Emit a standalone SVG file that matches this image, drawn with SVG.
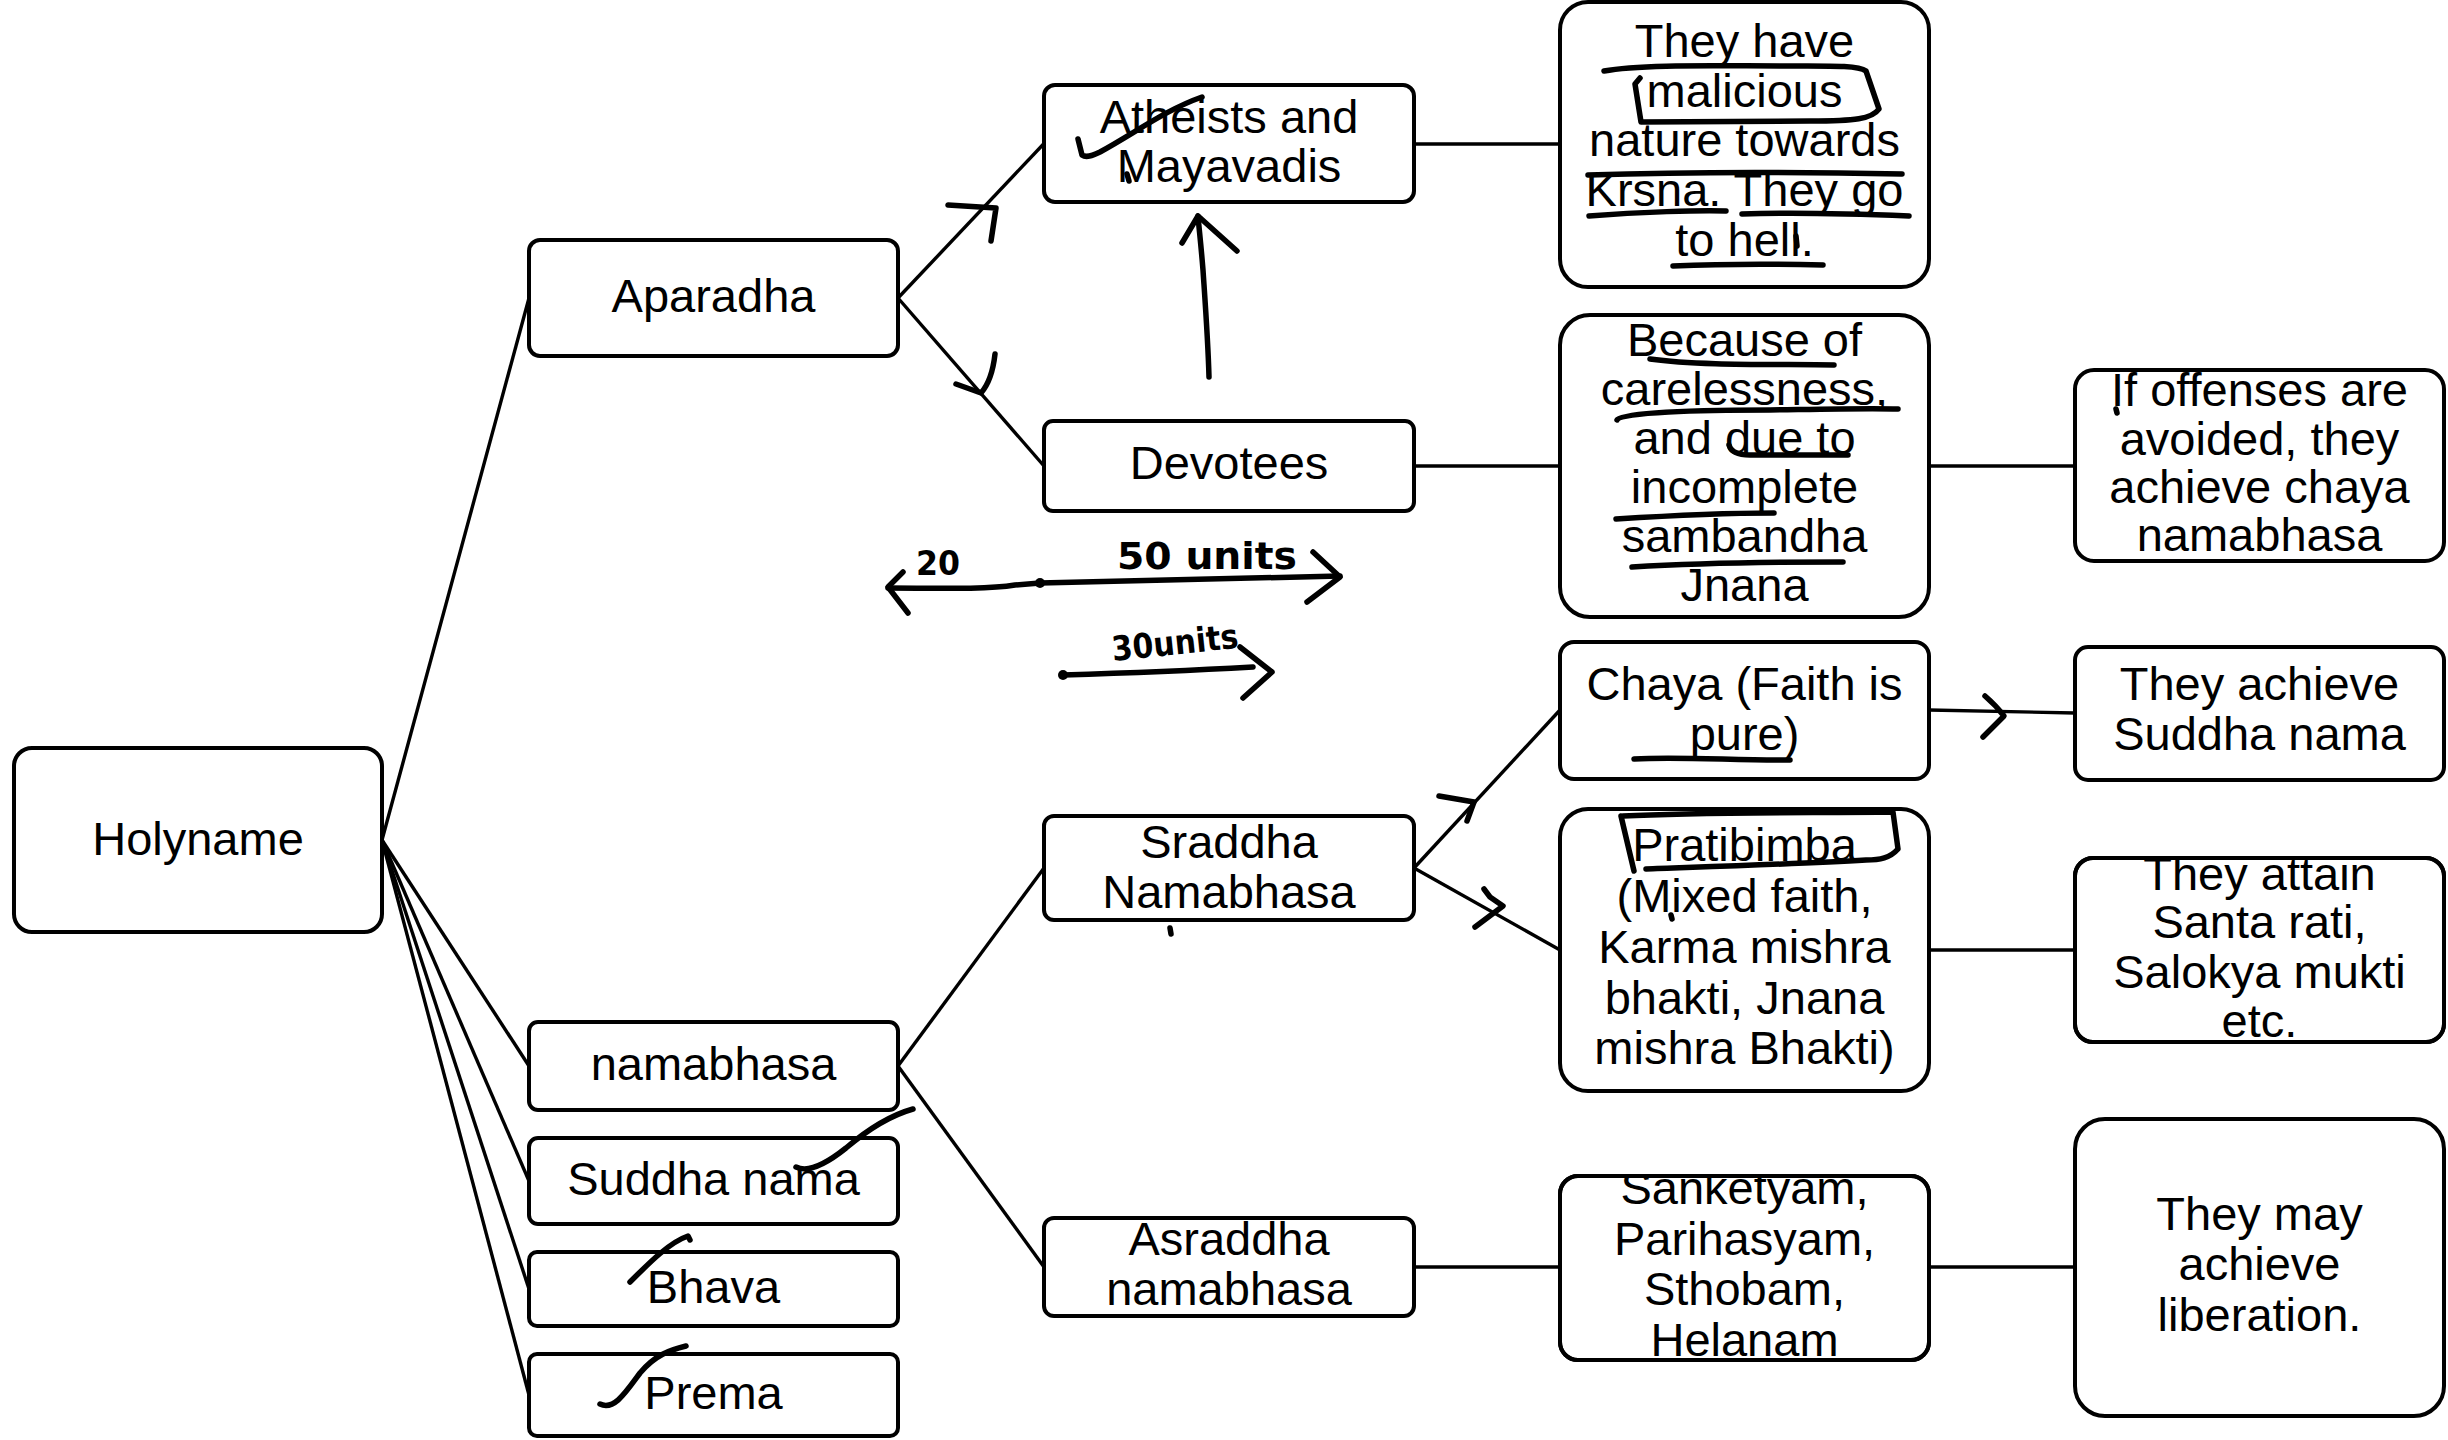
<svg xmlns="http://www.w3.org/2000/svg" width="2448" height="1440" viewBox="0 0 2448 1440">
  <style>
    .box { fill: #ffffff; stroke: #000000; stroke-width: 4; }
    .lbl { font-family: "Liberation Sans", Arial, sans-serif; font-size: 47px; fill: #000000; text-anchor: middle; }
    .edge { stroke: #000000; stroke-width: 3.4; fill: none; }
    .ink { stroke: #000000; stroke-width: 5.5; fill: none; stroke-linecap: round; stroke-linejoin: round; }
    .hand { font-family: "DejaVu Sans", "Liberation Sans", sans-serif; font-weight: bold; fill: #000000; }
  </style>
  <defs>
    <clipPath id="clip-sanketyam"><rect x="1560" y="1176" width="369" height="184" rx="18"/></clipPath>
    <clipPath id="clip-attain"><rect x="2075" y="858" width="369" height="184" rx="18"/></clipPath>
  </defs>
  <rect width="2448" height="1440" fill="#ffffff"/>

  <!-- connectors -->
  <g id="connectors">
    <line class="edge" x1="382" y1="840" x2="529" y2="298"/>
    <line class="edge" x1="382" y1="840" x2="529" y2="1066"/>
    <line class="edge" x1="382" y1="840" x2="529" y2="1181"/>
    <line class="edge" x1="382" y1="840" x2="529" y2="1289"/>
    <line class="edge" x1="382" y1="840" x2="529" y2="1395"/>
    <line class="edge" x1="898" y1="298" x2="1044" y2="143.5"/>
    <line class="edge" x1="898" y1="298" x2="1044" y2="466"/>
    <line class="edge" x1="898" y1="1066" x2="1044" y2="868"/>
    <line class="edge" x1="898" y1="1066" x2="1044" y2="1267"/>
    <line class="edge" x1="1414" y1="144" x2="1560" y2="144"/>
    <line class="edge" x1="1414" y1="466" x2="1560" y2="466"/>
    <line class="edge" x1="1929" y1="466" x2="2075" y2="466"/>
    <line class="edge" x1="1414" y1="868" x2="1560" y2="710"/>
    <line class="edge" x1="1414" y1="868" x2="1560" y2="950"/>
    <line class="edge" x1="1929" y1="950" x2="2075" y2="950"/>
    <line class="edge" x1="1414" y1="1267" x2="1560" y2="1267"/>
    <line class="edge" x1="1929" y1="1267" x2="2075" y2="1267"/>
    <line class="edge" x1="1929" y1="710" x2="2075" y2="713"/>
  </g>

  <!-- nodes -->
  <g id="node-holyname">
    <rect class="box" x="14" y="748" width="368" height="184" rx="18"/>
    <text class="lbl" x="198" y="855">Holyname</text>
  </g>
  <g id="node-aparadha">
    <rect class="box" x="529" y="240" width="369" height="116" rx="11"/>
    <text class="lbl" x="713.5" y="312">Aparadha</text>
  </g>
  <g id="node-namabhasa">
    <rect class="box" x="529" y="1022" width="369" height="88" rx="9"/>
    <text class="lbl" x="713.5" y="1080">namabhasa</text>
  </g>
  <g id="node-suddha-nama">
    <rect class="box" x="529" y="1138" width="369" height="86" rx="9"/>
    <text class="lbl" x="713.5" y="1195">Suddha nama</text>
  </g>
  <g id="node-bhava">
    <rect class="box" x="529" y="1252" width="369" height="74" rx="8"/>
    <text class="lbl" x="713.5" y="1303">Bhava</text>
  </g>
  <g id="node-prema">
    <rect class="box" x="529" y="1354" width="369" height="82" rx="8"/>
    <text class="lbl" x="713.5" y="1409">Prema</text>
  </g>
  <g id="node-atheists">
    <rect class="box" x="1044" y="85" width="370" height="117" rx="11"/>
    <text class="lbl" x="1229" y="133">Atheists and</text>
    <text class="lbl" x="1229" y="182">Mayavadis</text>
  </g>
  <g id="node-devotees">
    <rect class="box" x="1044" y="421" width="370" height="90" rx="9"/>
    <text class="lbl" x="1229" y="479">Devotees</text>
  </g>
  <g id="node-sraddha">
    <rect class="box" x="1044" y="816" width="370" height="104" rx="10"/>
    <text class="lbl" x="1229" y="858">Sraddha</text>
    <text class="lbl" x="1229" y="908">Namabhasa</text>
  </g>
  <g id="node-asraddha">
    <rect class="box" x="1044" y="1218" width="370" height="98" rx="10"/>
    <text class="lbl" x="1229" y="1255">Asraddha</text>
    <text class="lbl" x="1229" y="1305">namabhasa</text>
  </g>
  <g id="node-malicious">
    <rect class="box" x="1560" y="2" width="369" height="285" rx="28"/>
    <text class="lbl" x="1744.5" y="57">They have</text>
    <text class="lbl" x="1744.5" y="107">malicious</text>
    <text class="lbl" x="1744.5" y="156">nature towards</text>
    <text class="lbl" x="1744.5" y="206">Krsna. They go</text>
    <text class="lbl" x="1744.5" y="256">to hell.</text>
  </g>
  <g id="node-carelessness">
    <rect class="box" x="1560" y="315" width="369" height="302" rx="30"/>
    <text class="lbl" x="1744.5" y="356">Because of</text>
    <text class="lbl" x="1744.5" y="405">carelessness,</text>
    <text class="lbl" x="1744.5" y="454">and due to</text>
    <text class="lbl" x="1744.5" y="503">incomplete</text>
    <text class="lbl" x="1744.5" y="552">sambandha</text>
    <text class="lbl" x="1744.5" y="601">Jnana</text>
  </g>
  <g id="node-chaya">
    <rect class="box" x="1560" y="642" width="369" height="137" rx="14"/>
    <text class="lbl" x="1744.5" y="700">Chaya (Faith is</text>
    <text class="lbl" x="1744.5" y="750">pure)</text>
  </g>
  <g id="node-pratibimba">
    <rect class="box" x="1560" y="809" width="369" height="282" rx="28"/>
    <text class="lbl" x="1744.5" y="861">Pratibimba</text>
    <text class="lbl" x="1744.5" y="912">(Mixed faith,</text>
    <text class="lbl" x="1744.5" y="963">Karma mishra</text>
    <text class="lbl" x="1744.5" y="1014">bhakti, Jnana</text>
    <text class="lbl" x="1744.5" y="1064">mishra Bhakti)</text>
  </g>
  <g id="node-sanketyam">
    <rect class="box" x="1560" y="1176" width="369" height="184" rx="18"/>
    <g clip-path="url(#clip-sanketyam)">
      <text class="lbl" x="1744.5" y="1204">Sanketyam,</text>
      <text class="lbl" x="1744.5" y="1255">Parihasyam,</text>
      <text class="lbl" x="1744.5" y="1305">Sthobam,</text>
      <text class="lbl" x="1744.5" y="1356">Helanam</text>
    </g>
    <rect x="1560" y="1176" width="369" height="184" rx="18" fill="none" stroke="#000" stroke-width="4"/>
  </g>
  <g id="node-offenses">
    <rect class="box" x="2075" y="370" width="369" height="191" rx="19"/>
    <text class="lbl" x="2259.5" y="406">If offenses are</text>
    <text class="lbl" x="2259.5" y="455">avoided, they</text>
    <text class="lbl" x="2259.5" y="503">achieve chaya</text>
    <text class="lbl" x="2259.5" y="551">namabhasa</text>
  </g>
  <g id="node-achieve-suddha">
    <rect class="box" x="2075" y="647" width="369" height="133" rx="13"/>
    <text class="lbl" x="2259.5" y="700">They achieve</text>
    <text class="lbl" x="2259.5" y="750">Suddha nama</text>
  </g>
  <g id="node-santa-rati">
    <rect class="box" x="2075" y="858" width="369" height="184" rx="18"/>
    <g clip-path="url(#clip-attain)">
      <text class="lbl" x="2259.5" y="890">They attain</text>
      <text class="lbl" x="2259.5" y="938">Santa rati,</text>
      <text class="lbl" x="2259.5" y="988">Salokya mukti</text>
      <text class="lbl" x="2259.5" y="1037">etc.</text>
    </g>
    <rect x="2075" y="858" width="369" height="184" rx="18" fill="none" stroke="#000" stroke-width="4"/>
  </g>
  <g id="node-liberation">
    <rect class="box" x="2075" y="1119" width="369" height="297" rx="30"/>
    <text class="lbl" x="2259.5" y="1230">They may</text>
    <text class="lbl" x="2259.5" y="1280">achieve</text>
    <text class="lbl" x="2259.5" y="1331">liberation.</text>
  </g>

  <!-- pen annotations -->
  <g id="pen-marks">
    <!-- arrow heads on the Aparadha branches -->
    <path class="ink" d="M948,205 L996,208 L991,241"/>
    <path class="ink" d="M995,354 C993,372 988,385 981,393 L956,384"/>
    <!-- arrow from Devotees up to Atheists -->
    <path class="ink" d="M1209,377 C1208,340 1205,300 1203,270 C1201,245 1199,228 1198,216"/>
    <path class="ink" d="M1182,243 L1198,216 L1237,251"/>
    <!-- arrow heads on the Sraddha branches -->
    <path class="ink" d="M1439,796 L1474,802 L1467,821"/>
    <path class="ink" d="M1484,889 L1490,897 L1503,906 L1475,927"/>
    <path class="ink" d="M1985,696 C1992,702 1998,708 2004,716 L1983,737"/>
    <!-- ticks through struck-out items -->
    <path class="ink" d="M1078,139 L1082,155 C1086,158 1092,156 1100,152 C1135,133 1165,110 1202,97"/>
    <path class="ink" d="M1127,174 L1129,181"/>
    <path class="ink" d="M796,1167 C808,1173 826,1164 846,1148 C866,1131 888,1116 913,1109"/>
    <path class="ink" d="M630,1282 C650,1262 670,1242 688,1236 L690,1240"/>
    <path class="ink" d="M600,1404 C614,1411 626,1392 640,1373 C655,1355 670,1350 686,1346"/>
    <path class="ink" d="M1170,928 L1171,934"/>
    <!-- loops and underlines inside the explanation boxes -->
    <path class="ink" d="M1604,71 C1640,64 1720,66 1780,66 C1830,66 1858,65 1866,71 L1879,109 C1872,119 1855,121 1810,121 L1641,122 L1635,84 L1640,78"/>
    <path class="ink" d="M1588,175 C1680,172 1800,172 1902,174"/>
    <path class="ink" d="M1589,216 C1640,212 1700,210 1726,211"/>
    <path class="ink" d="M1742,214 C1800,212 1860,214 1909,216"/>
    <path class="ink" d="M1673,266 C1720,264 1780,264 1823,265"/>
    <path class="ink" d="M1796,236 L1797,246"/>
    <path class="ink" d="M1650,359 C1700,366 1780,364 1834,365"/>
    <path class="ink" d="M1617,420 C1620,412 1700,410 1770,410 C1830,409 1870,408 1898,409"/>
    <path class="ink" d="M1729,445 C1731,452 1738,455 1750,455 L1848,455"/>
    <path class="ink" d="M1616,519 C1680,515 1730,513 1774,513"/>
    <path class="ink" d="M1632,567 C1700,563 1790,562 1843,562"/>
    <path class="ink" d="M1634,759 C1680,756 1740,761 1790,760"/>
    <path class="ink" d="M1621,816 L1634,871 M1623,816 C1700,812 1800,813 1893,812 L1898,849 C1890,858 1880,860 1866,860 C1800,864 1700,867 1646,869"/>
    <path class="ink" d="M1671,915 L1672,919"/>
    <path class="ink" d="M2116,409 L2117,413"/>
    <!-- measurement sketch -->
    <path class="ink" d="M888,588 C930,588 985,590 1015,585 L1040,583 C1120,582 1220,578 1340,576"/>
    <path class="ink" d="M903,572 L888,587 L908,613"/>
    <path class="ink" d="M1313,552 L1340,577 L1307,602"/>
    <circle cx="1040" cy="583" r="5" fill="#000"/>
    <path class="ink" d="M1063,675 C1130,673 1200,670 1253,667"/>
    <circle cx="1063" cy="675" r="5" fill="#000"/>
    <path class="ink" d="M1240,647 L1272,672 L1243,698"/>
    <text class="hand" x="916" y="575" font-size="34" textLength="44" lengthAdjust="spacingAndGlyphs">20</text>
    <text class="hand" x="1117" y="569" font-size="38" textLength="180" lengthAdjust="spacingAndGlyphs">50 units</text>
    <text class="hand" x="1113" y="661" font-size="34" textLength="127" lengthAdjust="spacingAndGlyphs" transform="rotate(-6 1113 661)">30units</text>
  </g>
</svg>
